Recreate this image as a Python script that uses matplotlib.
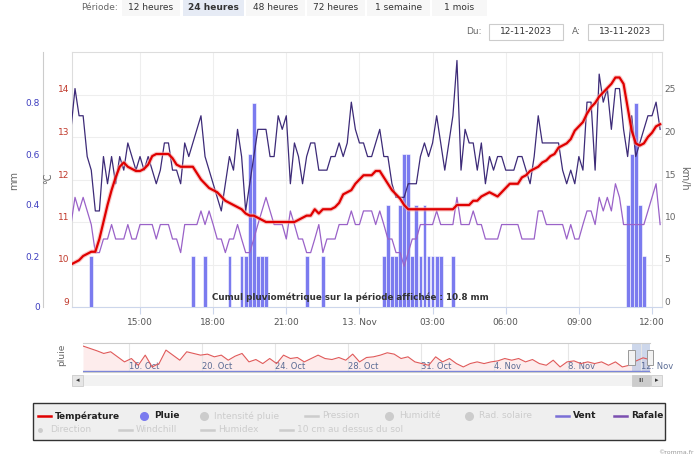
import matplotlib
matplotlib.use('Agg')
import matplotlib.pyplot as plt
from matplotlib.patches import Rectangle
from matplotlib.lines import Line2D

W, H = 700, 462

# ---- main chart data: 10-min samples, first one at 12 Nov 12:10 (just left of the window)
t0_hours = 12 + 10 / 60          # hours since 12 Nov 00:00
step_hours = 10 / 60

temperature = [
    10.0,
    10.05, 10.1, 10.2, 10.25, 10.3, 10.3, 10.6, 11.0, 11.4, 11.75,
    12.05, 12.3, 12.4, 12.3, 12.25, 12.2, 12.2, 12.25, 12.35, 12.55,
    12.6, 12.6, 12.6, 12.6, 12.5, 12.35, 12.3, 12.3, 12.3, 12.3,
    12.15, 12.0, 11.9, 11.8, 11.75, 11.7, 11.6, 11.5, 11.45, 11.4,
    11.35, 11.3, 11.2, 11.15, 11.15, 11.1, 11.05, 11.0, 11.0, 11.0,
    11.0, 11.0, 11.0, 11.0, 11.0, 11.05, 11.1, 11.15, 11.15, 11.3,
    11.2, 11.3, 11.3, 11.3, 11.35, 11.45, 11.65, 11.7, 11.75, 11.9,
    12.0, 12.1, 12.1, 12.1, 12.2, 12.2, 12.05, 11.9, 11.75, 11.65,
    11.55, 11.4, 11.3, 11.3, 11.3, 11.3, 11.3, 11.3, 11.3, 11.3,
    11.3, 11.3, 11.3, 11.3, 11.4, 11.4, 11.4, 11.4, 11.5, 11.5,
    11.6, 11.65, 11.7, 11.65, 11.6, 11.7, 11.8, 11.9, 11.9, 11.9,
    12.05, 12.1, 12.2, 12.25, 12.3, 12.4, 12.45, 12.55, 12.6, 12.75,
    12.8, 12.85, 12.95, 13.15, 13.25, 13.35, 13.55, 13.7, 13.8, 13.95,
    14.05, 14.15, 14.25, 14.4, 14.4, 14.25, 13.7, 13.15, 12.85, 12.8,
    12.85, 13.0, 13.1, 13.25, 13.3,
]

vent = [
    9.7,
    12.9, 11.3, 12.9, 11.3, 9.7, 6.4, 6.4, 8.0, 8.0, 9.7,
    8.0, 8.0, 8.0, 9.7, 8.0, 8.0, 9.7, 9.7, 9.7, 9.7,
    8.0, 9.7, 9.7, 9.7, 8.0, 8.0, 6.4, 9.7, 9.7, 9.7,
    9.7, 11.3, 9.7, 11.3, 9.7, 8.0, 8.0, 6.4, 8.0, 8.0,
    9.7, 8.0, 6.4, 6.4, 8.0, 9.7, 11.3, 12.9, 11.3, 9.7,
    9.7, 9.7, 8.0, 11.3, 9.7, 8.0, 8.0, 6.4, 6.4, 8.0,
    9.7, 6.4, 8.0, 8.0, 8.0, 9.7, 9.7, 9.7, 11.3, 9.7,
    9.7, 11.3, 11.3, 11.3, 9.7, 11.3, 9.7, 8.0, 8.0, 6.4,
    6.4, 4.8, 6.4, 8.0, 8.0, 9.7, 9.7, 9.7, 9.7, 11.3,
    9.7, 9.7, 9.7, 9.7, 12.9, 9.7, 9.7, 9.7, 11.3, 9.7,
    9.7, 8.0, 8.0, 8.0, 8.0, 9.7, 9.7, 9.7, 9.7, 9.7,
    8.0, 8.0, 8.0, 8.0, 11.3, 11.3, 9.7, 9.7, 9.7, 9.7,
    9.7, 8.0, 9.7, 8.0, 8.0, 9.7, 11.3, 11.3, 9.7, 12.9,
    11.3, 12.9, 11.3, 14.5, 12.9, 9.7, 9.7, 9.7, 9.7, 9.7,
    9.7, 11.3, 12.9, 14.5, 9.7,
]

rafale = [
    20.9,
    25.7, 22.5, 22.5, 17.7, 16.1, 11.3, 11.3, 17.7, 14.5, 17.7,
    14.5, 17.7, 16.1, 19.3, 17.7, 16.1, 17.7, 16.1, 17.7, 16.1,
    14.5, 16.1, 19.3, 19.3, 16.1, 16.1, 14.5, 19.3, 17.7, 19.3,
    20.9, 22.5, 17.7, 16.1, 14.5, 12.9, 11.3, 14.5, 17.7, 16.1,
    20.9, 17.7, 11.3, 14.5, 17.7, 20.9, 20.9, 20.9, 17.7, 17.7,
    22.5, 20.9, 22.5, 14.5, 19.3, 17.7, 14.5, 17.7, 19.3, 19.3,
    16.1, 16.1, 16.1, 17.7, 17.7, 19.3, 17.7, 19.3, 24.1, 20.9,
    19.3, 19.3, 17.7, 17.7, 19.3, 20.9, 17.7, 17.7, 14.5, 12.9,
    12.9, 12.9, 14.5, 14.5, 14.5, 17.7, 19.3, 17.7, 19.3, 22.5,
    19.3, 16.1, 19.3, 22.5, 29.0, 16.1, 20.9, 19.3, 19.3, 16.1,
    19.3, 14.5, 17.7, 16.1, 17.7, 17.7, 16.1, 16.1, 16.1, 17.7,
    17.7, 16.1, 14.5, 17.7, 22.5, 19.3, 19.3, 19.3, 19.3, 19.3,
    16.1, 14.5, 16.1, 14.5, 17.7, 16.1, 24.1, 24.1, 16.1, 27.4,
    24.1, 25.7, 20.9, 25.7, 25.7, 20.9, 17.7, 22.5, 17.7, 19.3,
    20.9, 22.5, 22.5, 24.1, 20.9,
]

# rain per 10 minutes (mm), only non-zero slots
rain_time = ['13:00', '17:10', '17:40', '18:40', '19:10', '19:20', '19:30', '19:40',
             '19:50', '20:00', '20:10', '21:50', '22:30',
             '01:00', '01:10', '01:20', '01:30', '01:40', '01:50', '02:00', '02:10',
             '02:20', '02:30', '02:40', '02:50', '03:00', '03:10', '03:20', '03:50',
             '11:00', '11:10', '11:20', '11:30', '11:40']
rain_mm = [0.2, 0.2, 0.2, 0.2, 0.2, 0.2, 0.6, 0.8,
           0.2, 0.2, 0.2, 0.2, 0.2,
           0.2, 0.4, 0.2, 0.2, 0.4, 0.6, 0.6, 0.2,
           0.4, 0.2, 0.4, 0.2, 0.2, 0.2, 0.2, 0.2,
           0.4, 0.6, 0.8, 0.4, 0.2]

x_ticks = [15, 18, 21, 24, 27, 30, 33, 36]
x_labels = ['15:00', '18:00', '21:00', '13. Nov', '03:00', '06:00', '09:00', '12:00']

# ---- navigator: one month of temperature (days counted from 1 Oct, Nov = +31)
nav_start_day = 13.51
nav_end_day = 44.51
nav_temp = [21.4, 20.0, 18.6, 17.0, 18.0, 15.0, 12.0, 14.0, 10.0, 16.0,
            9.0, 11.0, 19.0, 16.0, 13.0, 18.0, 17.0, 16.0, 16.6, 15.0,
            16.0, 13.0, 15.4, 17.0, 12.0, 13.4, 11.0, 14.0, 11.0, 16.0,
            14.0, 14.6, 12.0, 14.0, 16.0, 14.0, 13.4, 14.6, 13.0, 16.6,
            12.0, 14.6, 15.0, 16.0, 17.4, 16.6, 14.0, 15.0, 12.0, 11.0,
            10.0, 15.0, 12.0, 14.0, 11.0, 9.0, 11.0, 12.0, 11.0, 12.0,
            12.6, 14.0, 13.0, 14.0, 12.0, 13.4, 11.0, 10.0, 13.0, 9.0,
            12.0, 12.6, 11.0, 12.0, 11.0, 12.0, 10.0, 12.0, 9.0, 10.0,
            12.6, 14.4, 13.3]
nav_ticks = [16, 20, 24, 28, 32, 36, 40, 44]
nav_labels = ['16. Oct', '20. Oct', '24. Oct', '28. Oct', '31. Oct', '4. Nov', '8. Nov', '12. Nov']
sel_start, sel_end = 43.51, 44.51


def hours(hhmm):
    h, m = hhmm.split(':')
    v = int(h) + int(m) / 60
    return v + 24 if v < 12 else v


def rect(l, t, r, b):
    return [l / W, 1 - b / H, (r - l) / W, (b - t) / H]


plt.rcParams['font.family'] = ['DejaVu Sans']
fig = plt.figure(figsize=(W / 100, H / 100), dpi=100)

times = [t0_hours + i * step_hours for i in range(len(temperature))]
rain_x = [hours(s) for s in rain_time]

main = rect(72, 52, 662, 307)
fs = 6.5

# base axes: grid, x axis, °C labels
ax = fig.add_axes(main)
ax.set_xlim(12.21, 36.41)
ax.set_ylim(9, 15)
ax.set_yticks([9, 10, 11, 12, 13, 14])
ax.set_yticklabels(['9', '10', '11', '12', '13', '14'], va='bottom')
ax.tick_params(axis='y', length=0, pad=2, labelsize=fs, labelcolor='#c0392b')
ax.set_xticks(x_ticks)
ax.set_xticklabels(x_labels)
ax.tick_params(axis='x', length=5, color='#ccd6eb', labelsize=fs, labelcolor='#555555', pad=3)
ax.grid(True, color='#eeeeee', lw=0.8)
for s in ax.spines.values():
    s.set_color('#dddddd')
    s.set_linewidth(0.8)
ax.spines['bottom'].set_color('#ccd6eb')

# rain
axr = fig.add_axes(main, sharex=ax)
axr.patch.set_visible(False)
axr.bar(rain_x, rain_mm, width=0.155, color='#7b7bef', edgecolor='white', linewidth=0.4, zorder=2)
axr.set_ylim(0, 1.0)
axr.set_yticks([0, 0.2, 0.4, 0.6, 0.8])
axr.set_yticklabels(['0', '0.2', '0.4', '0.6', '0.8'], va='bottom')
axr.tick_params(axis='y', length=0, pad=2, labelsize=fs, labelcolor='#3d3dbf')
axr.tick_params(axis='x', bottom=False, labelbottom=False)
for k in ['top', 'right', 'bottom']:
    axr.spines[k].set_visible(False)
axr.spines['left'].set_position(('outward', 21))
axr.spines['left'].set_color('#cccccc')
axr.spines['left'].set_linewidth(0.8)

# wind
axw = fig.add_axes(main, sharex=ax)
axw.patch.set_visible(False)
axw.plot(times, vent, color='#9a62c8', lw=0.9)
axw.plot(times, rafale, color='#3d2b78', lw=0.9)
axw.set_ylim(0, 30)
axw.yaxis.tick_right()
axw.set_yticks([0, 5, 10, 15, 20, 25])
axw.set_yticklabels(['0', '5', '10', '15', '20', '25'], va='bottom')
axw.tick_params(axis='y', length=0, pad=2, labelsize=fs, labelcolor='#666666')
axw.tick_params(axis='x', bottom=False, labelbottom=False)
for s in axw.spines.values():
    s.set_visible(False)

# temperature on top
axt = fig.add_axes(main, sharex=ax)
axt.patch.set_visible(False)
axt.plot(times, temperature, color='#f4a6a6', lw=3.2, alpha=0.6, solid_capstyle='round')
axt.plot(times, temperature, color='#e00000', lw=1.6)
axt.set_ylim(9, 15)
axt.set_yticks([])
axt.tick_params(axis='x', bottom=False, labelbottom=False)
for s in axt.spines.values():
    s.set_visible(False)
axt.text(0.471, 0.04, 'Cumul pluviométrique sur la période affichée : 10.8 mm',
         transform=axt.transAxes, ha='center', va='center', fontsize=6.3,
         fontweight='bold', color='#333333')

# ---- navigator
nav = fig.add_axes(rect(83, 343, 650, 372))
nav_days = [nav_start_day + i * (nav_end_day - nav_start_day) / (len(nav_temp) - 1)
            for i in range(len(nav_temp))]
nav.fill_between(nav_days, nav_temp, 6, color='#fdecec', lw=0)
nav.plot(nav_days, nav_temp, color='#e05a5a', lw=0.8)
nav.set_xlim(nav_start_day, nav_end_day)
nav.set_ylim(6, 23.2)
nav.set_yticks([])
nav.set_xticks(nav_ticks)
nav.set_xticklabels(nav_labels, ha='left')
nav.tick_params(axis='x', length=0, labelsize=6, labelcolor='#5a6b94', pad=-7)
nav.grid(True, axis='x', color='#e6e6e6', lw=0.8)
for k in ['left', 'right']:
    nav.spines[k].set_visible(False)
for k in ['top', 'bottom']:
    nav.spines[k].set_color('#cccccc')
    nav.spines[k].set_linewidth(0.8)
nav_r = nav.twinx()
nav_r.set_ylim(-0.4, 10)
nav_r.axhline(0, color='#7b86d9', lw=1)
nav_r.set_yticks([])
for s in nav_r.spines.values():
    s.set_visible(False)
nav.axvspan(sel_start, sel_end, color='#b9c6e3', alpha=0.7, lw=0)
for xs in (sel_start, sel_end):
    nav.add_patch(Rectangle((xs - 0.18, 0.25), 0.36, 0.5, transform=nav.get_xaxis_transform(),
                            fc='#f2f2f2', ec='#999999', lw=0.7, clip_on=False, zorder=5))

# ---- pixel overlay: header, axis titles, scrollbar, legend
ov = fig.add_axes([0, 0, 1, 1])
ov.set_xlim(0, W)
ov.set_ylim(H, 0)
ov.axis('off')

ov.text(99, 8, 'Période:', ha='center', va='center', fontsize=fs, color='#666666')
buttons = [('12 heures', 122, 180), ('24 heures', 183, 244), ('48 heures', 246, 305),
           ('72 heures', 307, 365), ('1 semaine', 367, 430), ('1 mois', 432, 487)]
for label, x0, x1 in buttons:
    sel = label == '24 heures'
    ov.add_patch(Rectangle((x0, 0), x1 - x0, 16, fc='#e6ebf5' if sel else '#f7f7f7', ec='none'))
    ov.text((x0 + x1) / 2, 8, label, ha='center', va='center', fontsize=fs,
            color='#333333', fontweight='bold' if sel else 'normal')

ov.text(474, 32, 'Du:', ha='center', va='center', fontsize=fs, color='#666666')
ov.add_patch(Rectangle((489, 24), 74, 16, fc='white', ec='#cccccc', lw=0.8))
ov.text(526, 32, '12-11-2023', ha='center', va='center', fontsize=fs, color='#333333')
ov.text(576, 32, 'A:', ha='center', va='center', fontsize=fs, color='#666666')
ov.add_patch(Rectangle((588, 24), 75, 16, fc='white', ec='#cccccc', lw=0.8))
ov.text(625, 32, '13-11-2023', ha='center', va='center', fontsize=fs, color='#333333')

ov.text(14, 180, 'mm', ha='center', va='center', rotation=90, fontsize=fs + 0.5, color='#666666')
ov.text(48, 178, '°C', ha='center', va='center', rotation=90, fontsize=fs + 0.5, color='#666666')
ov.text(684, 178, 'km/h', ha='center', va='center', rotation=270, fontsize=fs + 0.5, color='#666666')
ov.text(62, 355, 'pluie', ha='center', va='center', rotation=90, fontsize=fs, color='#666666')

# scrollbar
ov.add_patch(Rectangle((72, 375), 590, 11, fc='#f2f2f2', ec='none'))
ov.add_patch(Rectangle((72, 375), 11, 11, fc='#e6e6e6', ec='#cccccc', lw=0.6))
ov.add_patch(Rectangle((651, 375), 11, 11, fc='#e6e6e6', ec='#cccccc', lw=0.6))
ov.add_patch(Rectangle((632, 375), 18, 11, fc='#cccccc', ec='#cccccc', lw=0.6))
ov.text(77.5, 380.5, '◂', ha='center', va='center', fontsize=5, color='#333333')
ov.text(656.5, 380.5, '▸', ha='center', va='center', fontsize=5, color='#333333')
ov.text(641, 380.5, 'III', ha='center', va='center', fontsize=4.5, color='#333333')

# legend
ov.add_patch(Rectangle((33, 403), 632, 37, fc='#efefef', ec='#333333', lw=1.0))
legend_items = [
    ('Température', 'line', '#e00000', True, 38, 416),
    ('Pluie', 'dot', '#7b7bef', True, 144, 416),
    ('Intensité pluie', 'dot', '#cccccc', False, 204, 416),
    ('Pression', 'line', '#cccccc', False, 305, 416),
    ('Humidité', 'dot', '#cccccc', False, 389, 416),
    ('Rad. solaire', 'dot', '#cccccc', False, 469, 416),
    ('Vent', 'line', '#7a6fd6', True, 556, 416),
    ('Rafale', 'line', '#7b4fb0', True, 614, 416),
    ('Direction', 'small', '#cccccc', False, 40, 430),
    ('Windchill', 'line', '#cccccc', False, 119, 430),
    ('Humidex', 'line', '#cccccc', False, 201, 430),
    ('10 cm au dessus du sol', 'line', '#cccccc', False, 280, 430),
]
for label, kind, color, active, x, y in legend_items:
    if kind == 'line':
        ov.add_line(Line2D([x, x + 13], [y, y], color=color, lw=1.8))
        tx = x + 17
    elif kind == 'dot':
        ov.plot([x], [y], 'o', color=color, ms=5.5)
        tx = x + 10
    else:
        ov.plot([x], [y], 'o', color=color, ms=2.5)
        tx = x + 10
    ov.text(tx, y, label, ha='left', va='center', fontsize=fs,
            color='#222222' if active else '#cccccc',
            fontweight='bold' if active else 'normal')

ov.text(676, 452, '©romma.fr', ha='center', va='center', fontsize=4.5, color='#999999')

fig.savefig('out.png', dpi=100)
